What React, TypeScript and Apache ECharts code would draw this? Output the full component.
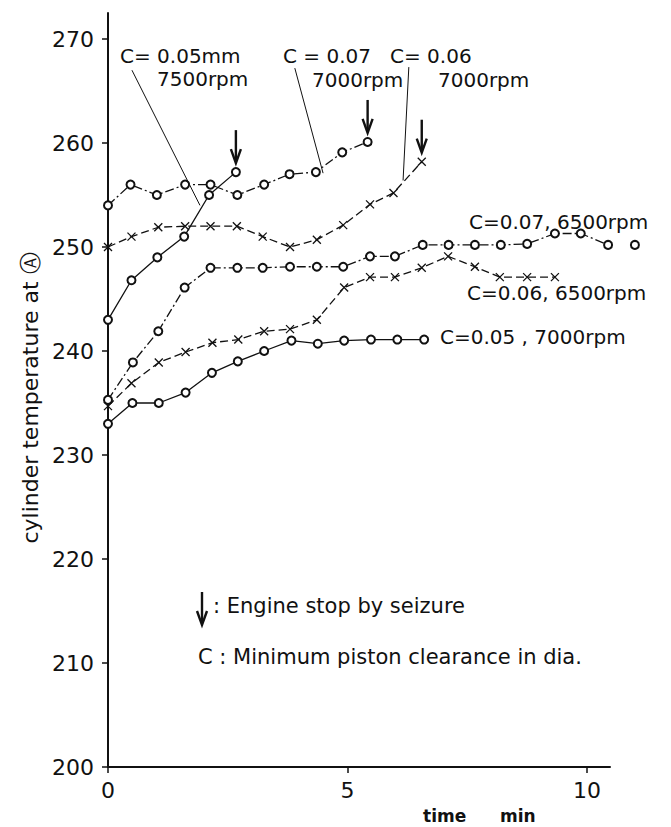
import React, { useEffect, useRef } from "react";
import * as echarts from "echarts";

// ---- axis ticks ----
const yTicks = [200, 210, 220, 230, 240, 250, 260, 270];
const xTicks = [0, 5, 10];

// ---- series (time in min, temperature) ----
// C=0.05mm, 7500 rpm (solid, circles)
const t0575 = [0, 0.49, 1.03, 1.59, 2.11, 2.67];
const v0575 = [243, 246.8, 249, 251, 255, 257.2];
// C=0.07, 7000 rpm (dash-dot, circles)
const t0770 = [0, 0.47, 1.02, 1.61, 2.14, 2.7, 3.26, 3.79, 4.34, 4.89, 5.42];
const v0770 = [254, 256, 255, 256, 256, 255, 256, 257, 257.2, 259.1, 260.1];
// C=0.06, 7000 rpm (dashed, crosses)
const t0670 = [0, 0.49, 1.05, 1.61, 2.14, 2.69, 3.23, 3.8, 4.36, 4.91, 5.47, 5.96, 6.55];
const v0670 = [250, 251, 251.9, 252, 252, 252, 251, 250, 250.7, 252.1, 254.1, 255.2, 258.2];
// C=0.07, 6500 rpm (dash-dot, circles)
const t0765 = [0, 0.52, 1.05, 1.6, 2.14, 2.7, 3.23, 3.8, 4.36, 4.91, 5.47, 5.99, 6.57, 7.11, 7.66, 8.2, 8.75, 9.33, 9.87, 10.44, 11.0];
const v0765 = [235.3, 238.9, 241.9, 246.1, 248, 248, 248, 248.1, 248.1, 248.1, 249.1, 249.1, 250.2, 250.2, 250.2, 250.2, 250.3, 251.3, 251.3, 250.2, 250.2];
// C=0.06, 6500 rpm (dashed, crosses)
const t0665 = [0, 0.49, 1.06, 1.62, 2.18, 2.72, 3.26, 3.8, 4.36, 4.93, 5.47, 5.99, 6.55, 7.1, 7.66, 8.18, 8.75, 9.33];
const v0665 = [234.7, 236.9, 238.9, 239.9, 240.8, 241.1, 241.9, 242.1, 243, 246.1, 247.1, 247.1, 248, 249.1, 248.1, 247.1, 247.1, 247.1];
// C=0.05, 7000 rpm (solid, circles)
const t0570 = [0, 0.51, 1.06, 1.62, 2.17, 2.71, 3.26, 3.83, 4.38, 4.93, 5.49, 6.04, 6.6];
const v0570 = [233, 235, 235, 236, 237.9, 239, 240, 241, 240.7, 241, 241.1, 241.1, 241.1];

const FONT = "'DejaVu Sans', 'Noto Sans', sans-serif";
const INK = "#111";
const DASHDOT = [9, 3, 2, 3];
const DASHED = [8, 4];
const CROSS = "path://M0 0L10 10M10 0L0 10";

function pairs(t: number[], v: number[]) {
  return t.map((x, i) => [x, v[i]]);
}

function mkSeries(name: string, t: number[], v: number[], dash: any, cross: boolean) {
  return {
    type: "line",
    name,
    data: pairs(t, v),
    clip: false,
    symbol: cross ? CROSS : "emptyCircle",
    symbolSize: 8,
    lineStyle: { color: INK, width: 1.3, type: dash },
    itemStyle: cross
      ? { color: INK, borderColor: INK, borderWidth: 1.3 }
      : { color: INK, borderWidth: 1.3 },
    z: 3,
  };
}

export default function App() {
  const ref = useRef<HTMLDivElement>(null);
  useEffect(() => {
    document.body.style.margin = "0";
    const chart = echarts.init(ref.current!, null, { renderer: "svg" });
    const option: any = {
      animation: false,
      backgroundColor: "#fff",
      textStyle: { fontFamily: FONT },
      grid: {
        left: 108,
        right: 61,
        top: 13,
        bottom: 60,
        containLabel: false,
        outerBoundsMode: "none",
      },
      xAxis: {
        type: "value",
        min: 0,
        max: 10.48,
        splitLine: { show: false },
        axisLine: { show: true, lineStyle: { color: INK, width: 2 } },
        axisTick: { show: true, length: 6, customValues: xTicks, lineStyle: { color: INK, width: 1.5 } },
        axisLabel: { customValues: xTicks, fontSize: 22, color: INK, margin: 12, fontFamily: FONT },
      },
      yAxis: {
        type: "value",
        min: 200,
        max: 272.5,
        splitLine: { show: false },
        axisLine: { show: true, lineStyle: { color: INK, width: 2 } },
        axisTick: { show: true, length: 6, customValues: yTicks, lineStyle: { color: INK, width: 1.5 } },
        axisLabel: { customValues: yTicks, fontSize: 22, color: INK, margin: 14, fontFamily: FONT },
      },
      series: [
        mkSeries("C=0.05mm 7500rpm", t0575, v0575, "solid", false),
        mkSeries("C=0.07 7000rpm", t0770, v0770, DASHDOT, false),
        mkSeries("C=0.06 7000rpm", t0670, v0670, DASHED, true),
        mkSeries("C=0.07 6500rpm", t0765, v0765, DASHDOT, false),
        mkSeries("C=0.06 6500rpm", t0665, v0665, DASHED, true),
        mkSeries("C=0.05 7000rpm", t0570, v0570, "solid", false),
      ],
    };
    chart.setOption(option);

    const P = (t: number, v: number) => chart.convertToPixel({ gridIndex: 0 }, [t, v]) as number[];

    const txt = (s: string, x: number, y: number, size = 20, extra: any = {}) => ({
      type: "text",
      x,
      y,
      style: { text: s, fontSize: size, fontFamily: FONT, fill: INK, textVerticalAlign: "middle", ...extra },
      z: 10,
    });
    const leader = (a: number[], b: number[]) => {
      const p = P(a[0], a[1]);
      const q = P(b[0], b[1]);
      return { type: "line", shape: { x1: p[0], y1: p[1], x2: q[0], y2: q[1] }, style: { stroke: INK, lineWidth: 1 }, z: 9 };
    };
    const arrowAt = (x: number, yTop: number, yTip: number) => [
      { type: "line", shape: { x1: x, y1: yTop, x2: x, y2: yTip - 2 }, style: { stroke: INK, lineWidth: 2.4 }, z: 9 },
      {
        type: "polyline",
        shape: { points: [[x - 5, yTip - 14], [x, yTip], [x + 5, yTip - 14]] },
        style: { stroke: INK, lineWidth: 2.4, fill: "none" },
        z: 9,
      },
    ];
    const seizureArrow = (t: number[], v: number[]) => {
      const p = P(t[t.length - 1], v[v.length - 1]);
      return arrowAt(p[0], p[1] - 42, p[1] - 9);
    };

    const graphic: any[] = [
      // leader lines (data coordinates)
      leader([0.5, 267.0], [1.92, 254.0]),
      leader([3.9, 267.2], [4.49, 257.1]),
      leader([6.28, 267.3], [6.16, 256.4]),
      ...seizureArrow(t0575, v0575),
      ...seizureArrow(t0770, v0770),
      ...seizureArrow(t0670, v0670),
      // top labels
      txt("C= 0.05mm", 120, 56),
      txt("7500rpm", 157, 79),
      txt("C = 0.07", 283, 56),
      txt("7000rpm", 312, 80),
      txt("C= 0.06", 390, 56),
      txt("7000rpm", 438, 80),
      // right labels
      txt("C=0.07, 6500rpm", 469, 222),
      txt("C=0.06, 6500rpm", 467, 293),
      txt("C=0.05 , 7000rpm", 440, 337),
      // key
      ...arrowAt(202, 592, 625),
      txt(": Engine stop by seizure", 213, 606, 21),
      txt("C : Minimum piston clearance in dia.", 198, 657, 21),
      // axis titles
      {
        type: "text",
        x: 30,
        y: 398,
        rotation: Math.PI / 2,
        style: { text: "cylinder temperature at Ⓐ", fontSize: 22, fontFamily: FONT, fill: INK, textAlign: "center", textVerticalAlign: "middle" },
        z: 10,
      },
      txt("time", 423, 816, 17, { fontWeight: "bold" }),
      txt("min", 500, 816, 17, { fontWeight: "bold" }),
    ];
    chart.setOption({ graphic });
    return () => chart.dispose();
  }, []);
  return <div ref={ref} style={{ width: 671, height: 827 }} />;
}
